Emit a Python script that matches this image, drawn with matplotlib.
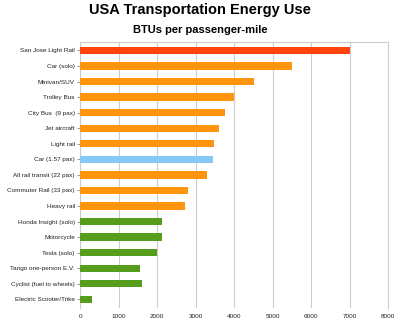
import matplotlib.pyplot as plt

plt.rcParams['font.family'] = ['Liberation Sans', 'DejaVu Sans']

modes = [
    'San Jose Light Rail', 'Car (solo)', 'Minivan/SUV', 'Trolley Bus',
    'City Bus  (9 pax)', 'Jet aircraft', 'Light rail', 'Car (1.57 pax)',
    'All rail transit (22 pax)', 'Commuter Rail (33 pax)', 'Heavy rail',
    'Honda Insight (solo)', 'Motorcycle', 'Tesla (solo)',
    'Tango one-person E.V.', 'Cyclist (fuel to wheels)',
    'Electric Scooter/Trike',
]
btus = [7000, 5500, 4500, 4000, 3750, 3600, 3470, 3450, 3300, 2790, 2710,
        2120, 2120, 1980, 1540, 1610, 310]
groups = ['hi', 'mid', 'mid', 'mid', 'mid', 'mid', 'mid', 'car', 'mid',
          'mid', 'mid', 'lo', 'lo', 'lo', 'lo', 'lo', 'lo']
palette = {'hi': '#ff420e', 'mid': '#ff950e', 'car': '#85c9f7', 'lo': '#579d1c'}
xticks = [0, 1000, 2000, 3000, 4000, 5000, 6000, 7000, 8000]

fig = plt.figure(figsize=(4, 3.23), dpi=100)
ax = fig.add_axes([0.2008, 0.0464, 0.77, 0.8236])

ypos = list(range(len(modes)))
ax.barh(ypos, btus, height=0.47, color=[palette[g] for g in groups],
        zorder=3)

ax.set_xlim(0, 8000)
ax.set_ylim(16.56, -0.54)
ax.set_xticks(xticks)
ax.set_xticklabels([str(t) for t in xticks], fontsize=4.6, color='#222222')
ax.set_yticks(ypos)
ax.set_yticklabels(modes, fontsize=4.6, color='#222222')
ax.tick_params(axis='x', length=0, pad=4.5)
ax.tick_params(axis='y', length=2.5, width=0.6, color='#888888', pad=1.5)
ax.grid(axis='x', color='#cccccc', linewidth=0.8, zorder=0)

for side in ('top', 'left', 'right'):
    ax.spines[side].set_color('#cccccc')
    ax.spines[side].set_linewidth(0.8)
ax.spines['bottom'].set_visible(False)

fig.text(0.5, 0.969, 'USA Transportation Energy Use', ha='center',
         va='center', fontsize=10.5, fontweight='bold')
fig.text(0.5, 0.906, 'BTUs per passenger-mile', ha='center', va='center',
         fontsize=8, fontweight='bold')

fig.savefig('out.png', dpi=100)
